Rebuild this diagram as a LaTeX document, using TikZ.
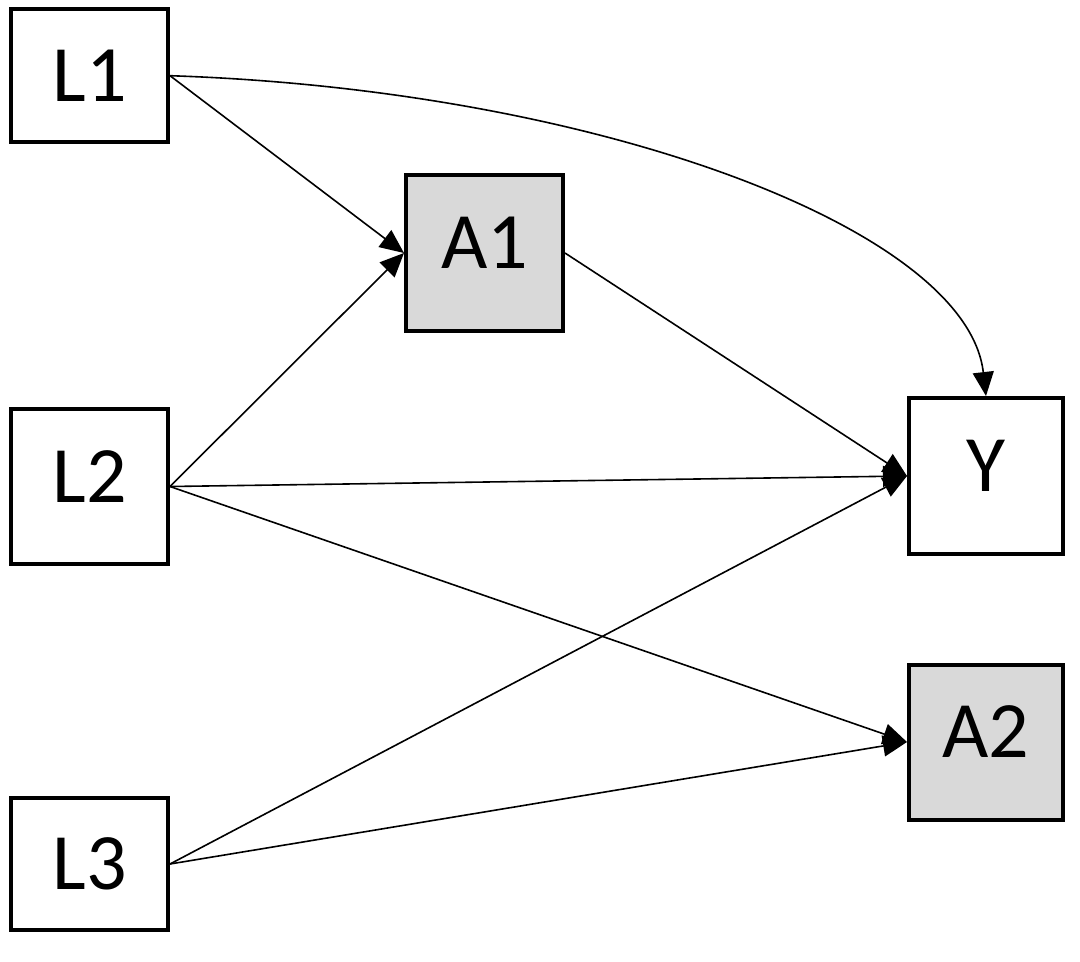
\documentclass[tikz,border=0pt]{standalone}
\usepackage{fontspec}
\setmainfont{Carlito}
\usetikzlibrary{arrows.meta}
\definecolor{boxgray}{HTML}{D9D9D9}
\begin{document}
\begin{tikzpicture}[x=1pt,y=-1pt,
  vbox/.style={draw=black,line width=4pt,rectangle,inner sep=0pt,
    font=\fontsize{80}{96}\selectfont,text height=51pt,text depth=0pt},
  tall/.style={text depth=20pt},
  filled/.style={fill=boxgray},
  conn/.style={line width=1.6pt,-{Triangle[length=24pt,width=21pt]}}]
\useasboundingbox (0,0) rectangle (1080,962);
\node[vbox,minimum width=157pt,minimum height=133pt] (L1) at (89.5,75.7) {L1};
\node[vbox,tall,filled,minimum width=157pt,minimum height=156pt] (A1) at (484.5,253) {A1};
\node[vbox,tall,minimum width=154pt,minimum height=156pt] (Y) at (986,476) {Y};
\node[vbox,tall,filled,minimum width=154pt,minimum height=155pt] (A2) at (986,742) {A2};
\node[vbox,tall,minimum width=157pt,minimum height=155pt] (L2) at (89.5,486.5) {L2};
\node[vbox,minimum width=157pt,minimum height=132pt] (L3) at (89.5,864) {L3};
\draw[conn] (L1.east) -- (A1.west);
\draw[conn] (L2.east) -- (A1.west);
\draw[conn] (L1.east) .. controls (600,90) and (967,230) .. (Y.north);
\draw[conn] (A1.east) -- (Y.west);
\draw[conn] (L2.east) -- (Y.west);
\draw[conn] (L3.east) -- (Y.west);
\draw[conn] (L2.east) -- (A2.west);
\draw[conn] (L3.east) -- (A2.west);
\end{tikzpicture}
\end{document}
